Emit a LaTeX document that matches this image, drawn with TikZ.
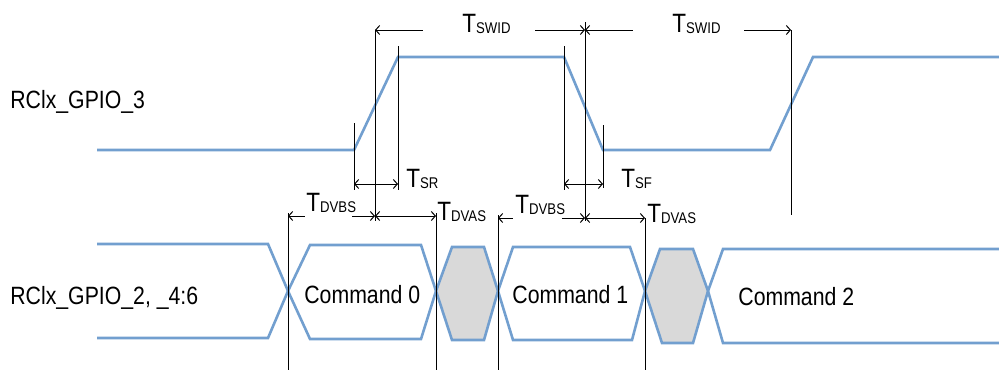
\documentclass[tikz,border=0pt]{standalone}
\usepackage{fontspec}
\setmainfont{Liberation Sans}[FakeStretch=0.85]
\usetikzlibrary{arrows.meta}
\definecolor{sigblue}{RGB}{114,159,207}
\definecolor{busgray}{RGB}{217,217,217}
\tikzset{
  wave/.style={sigblue, line width=1.3pt, line join=miter},
  guide/.style={black, line width=0.5pt},
  dim/.style={black, line width=0.5pt},
  siglabel/.style={font=\fontsize{12.5}{15}\selectfont, inner sep=0pt, anchor=base west},
  tlabel/.style={font=\fontsize{13.25}{15}\selectfont, inner sep=0pt, anchor=base west},
}
\newcommand{\tsub}[1]{T\raisebox{-0.5pt}{\fontsize{7.75}{9}\selectfont #1}}
\begin{document}
\begin{tikzpicture}[x=0.5pt, y=-0.5pt, >={Straight Barb[length=2pt,width=4.5pt]}]
      \useasboundingbox (0,0) rectangle (999,370);
      % signal names
      \node[siglabel] (gpio3) at (10,108) {RClx\_GPIO\_3};
      \node[siglabel] (gpio2) at (10,304) {RClx\_GPIO\_2, \_4:6};
      % GPIO_3 waveform
      \draw[wave] (97,150) -- (354,150) -- (398,57) -- (564,57) -- (603,150)
        -- (770,150) -- (813,57) -- (999,57);
      % GPIO_2 bus
      \draw[wave] (97,244) -- (268,244) -- (288,291) -- (268,338) -- (97,338);
      \draw[wave] (288,291) -- (310,245) -- (421,245) -- (436,291) -- (421,339) -- (310,339) -- cycle;
      \draw[wave, fill=busgray] (436,291) -- (452,247) -- (484,247) -- (498,291) -- (484,340) -- (452,340) -- cycle;
      \draw[wave] (498,291) -- (513,247) -- (630,247) -- (645,291) -- (632,340) -- (513,340) -- cycle;
      \draw[wave, fill=busgray] (645,291) -- (660,249) -- (693,249) -- (708,291) -- (693,343) -- (662,343) -- cycle;
      \draw[wave] (999,249) -- (723,249) -- (708,291) -- (723,343) -- (999,343);
      \node[siglabel] (cmd0) at (304,303) {Command 0};
      \node[siglabel] (cmd1) at (512,303) {Command 1};
      \node[siglabel] (cmd2) at (738,305) {Command 2};
      % guide lines
      \foreach \x/\a/\b in {354/123/190, 375/30/221, 398/46/190, 564/46/190,
          585/22/221, 603/125/188, 791/30/215, 288/213/370, 436/213/370,
          498/215/370, 645/218/370}
        \draw[guide] (\x,\a) -- (\x,\b);
      % dimension points
      \coordinate (sw0) at (375,30);
      \coordinate (sw1) at (585,30);
      \coordinate (sw2) at (791,30);
      \coordinate (sr0) at (354,184);
      \coordinate (sr1) at (398,184);
      \coordinate (sf0) at (564,184);
      \coordinate (sf1) at (603,184);
      \coordinate (da0) at (288,216);
      \coordinate (da1) at (375,216);
      \coordinate (da2) at (436,216);
      \coordinate (db0) at (498,218);
      \coordinate (db1) at (585,218);
      \coordinate (db2) at (645,218);
      % dimensions
      \begin{scope}[dim]
        \draw[<-] (sw0) -- (423,30);
        \draw[->] (535,30) -- (sw1);
        \draw[<-] (sw1) -- (633,30);
        \draw[->] (744,30) -- (sw2);
        \draw[<->] (sr0) -- (sr1);
        \draw[<->] (sf0) -- (sf1);
        \draw[<-] (da0) -- (305,216);
        \draw[->] (352,216) -- (da1);
        \draw[<->] (da1) -- (da2);
        \draw[<-] (db0) -- (513,218);
        \draw[->] (562,218) -- (db1);
        \draw[<->] (db1) -- (db2);
      \end{scope}
      \node[tlabel] (tswid0) at (462,32) {\tsub{SWID}};
      \node[tlabel] (tswid1) at (672,32) {\tsub{SWID}};
      \node[tlabel] (tsr) at (406,187) {\tsub{SR}};
      \node[tlabel] (tsf) at (621,187) {\tsub{SF}};
      \node[tlabel] (tdvbs0) at (306,211) {\tsub{DVBS}};
      \node[tlabel] (tdvas0) at (437,220) {\tsub{DVAS}};
      \node[tlabel] (tdvbs1) at (515,213) {\tsub{DVBS}};
      \node[tlabel] (tdvas1) at (647,222) {\tsub{DVAS}};
    \end{tikzpicture}
\end{document}
